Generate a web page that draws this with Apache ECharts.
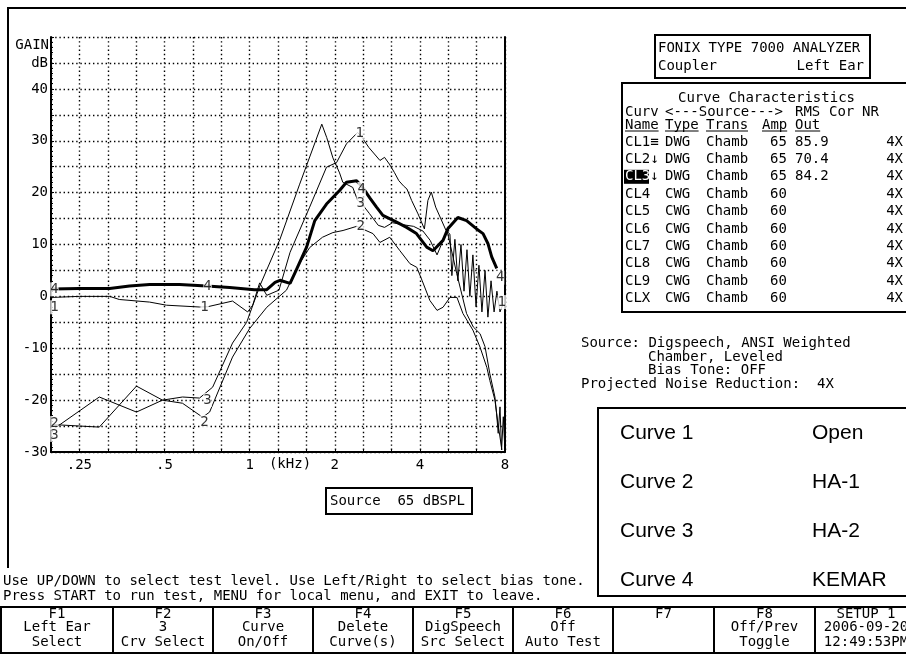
<!DOCTYPE html>
<html><head><meta charset="utf-8">
<script src="https://cdn.jsdelivr.net/npm/echarts@6/dist/echarts.min.js"></script>
<style>html,body{margin:0;padding:0;background:#fff;}#c{width:906px;height:654px;}</style>
</head><body><div id="c"></div>
<script>
// ---------------- DATA (frequency in kHz, gain in dB) ----------------
const xTickFreqs  = [0.25, 0.5, 1, 2, 4, 8];
const xTickLabels = ['.25', '.5', '1', '2', '4', '8'];
const yTickValues = [40, 30, 20, 10, 0, -10, -20, -30];

const curve1 = [[0.2,-0.2],[0.25,0],[0.32,0],[0.346,-0.6],[0.443,-1.1],[0.508,-1.7],[0.665,-2.05],[0.71,-2.0],[0.87,-0.9],[0.984,-3.0],[1.025,-1.7],[1.085,2.6],[1.15,0.2],[1.27,1.2],[1.39,8.5],[1.63,17.2],[1.87,24.9],[2.03,25.8],[2.2,29.4],[2.41,31.6],[2.5,30.6],[2.64,28.7],[2.89,26.2],[3.0,26.8],[3.12,25.5],[3.25,23.9],[3.37,22.3],[3.5,21.3],[3.6,20.7],[3.74,18.5],[3.94,15.9],[4.15,13.0],[4.27,18.5],[4.39,20.1],[4.55,17.2],[4.95,12.7],[5.11,12],[5.19,4],[5.32,11],[5.45,3],[5.59,10],[5.73,1],[5.87,9],[6.01,0],[6.16,8],[6.32,-2],[6.47,6],[6.63,-3],[6.8,5],[6.96,-4],[7.14,3],[7.32,-3],[7.49,1],[7.68,-3],[7.87,-1.5]];
const curve2 = [[0.2,-24.7],[0.294,-25.2],[0.398,-17.3],[0.492,-20],[0.579,-20.6],[0.682,-23.3],[0.722,-22.3],[0.87,-11.7],[1.0,-6.2],[1.15,-2.1],[1.35,1.2],[1.5,6.3],[1.63,9.4],[1.81,11.4],[1.97,12.3],[2.14,12.7],[2.39,13.5],[2.73,12.1],[2.89,10.4],[3.13,11.4],[3.4,8.8],[3.69,6.3],[3.9,5.6],[4.07,3.1],[4.34,-0.8],[4.6,-2.7],[4.83,-2.1],[5.11,-0.2],[5.41,-0.2],[5.68,-3.3],[6.16,-6.5],[6.53,-9.8],[6.9,-13.7],[7.07,-16.2],[7.37,-20],[7.55,-24.4],[7.8,-29.6]];
const curve3 = [[0.2,-25.8],[0.294,-19.4],[0.398,-22.3],[0.492,-20],[0.579,-19.4],[0.665,-19.6],[0.74,-17.5],[0.87,-9],[0.976,-5],[1.09,2.2],[1.28,11],[1.5,21.5],[1.8,33.2],[1.874,30.6],[1.97,26.7],[2.08,23.8],[2.135,22],[2.316,21],[2.41,18.5],[2.49,17.9],[2.65,16],[2.85,13.7],[3.0,13.3],[3.2,14.2],[3.5,13.8],[3.8,13.5],[4.1,12.6],[4.35,10.8],[4.6,8],[4.85,11],[5.0,12.5],[5.4,4.4],[5.85,-3.3],[6.18,-5.9],[6.53,-7.2],[6.8,-9.7],[7.07,-14.9],[7.37,-19.4],[7.47,-22.6],[7.57,-26.4],[7.68,-21.3],[7.78,-29.6],[7.89,-23.2],[8.0,-30]];
const curve4 = [[0.2,1.4],[0.25,1.5],[0.32,1.5],[0.376,2.0],[0.443,2.3],[0.565,2.3],[0.704,2.0],[0.85,1.7],[1.04,1.3],[1.15,1.3],[1.23,2.7],[1.28,3.1],[1.39,2.5],[1.46,5],[1.59,9.5],[1.7,14.6],[1.87,17.8],[2.08,20.4],[2.2,22],[2.39,22.3],[2.51,21],[2.66,19],[2.81,17.2],[2.96,15.6],[3.31,14.3],[3.59,13.3],[3.89,12.1],[4.23,9.5],[4.45,8.8],[4.83,10.8],[5.03,13.1],[5.45,15.2],[5.85,14.6],[6.35,13],[6.69,12.1],[6.96,10.2],[7.18,7.6],[7.48,5.4]];

// curve number tags drawn on the curves: [kHz, dB]
const tags1 = [[0.204,-2.1],[0.693,-2.1],[2.45,31.5],[7.79,-1.1]];
const tags2 = [[0.204,-24.4],[0.693,-24.2],[2.47,13.5]];
const tags3 = [[0.204,-26.7],[0.71,-20],[2.47,17.9]];
const tags4 = [[0.204,1.35],[0.71,1.9],[2.49,20.7],[7.69,3.6]];

const legendNames  = ['Curve 1','Curve 2','Curve 3','Curve 4'];
const legendLabels = ['Open','HA-1','HA-2','KEMAR'];

const tableRows = [
  ['CL1\u2261','DWG','Chamb','65','85.9','4X'],
  ['CL2\u2193','DWG','Chamb','65','70.4','4X'],
  ['CL3\u2193','DWG','Chamb','65','84.2','4X'],
  ['CL4','CWG','Chamb','60','','4X'],
  ['CL5','CWG','Chamb','60','','4X'],
  ['CL6','CWG','Chamb','60','','4X'],
  ['CL7','CWG','Chamb','60','','4X'],
  ['CL8','CWG','Chamb','60','','4X'],
  ['CL9','CWG','Chamb','60','','4X'],
  ['CLX','CWG','Chamb','60','','4X']
];
const fKeys = [
  ['F1','Left Ear','Select'],['F2','3','Crv Select'],['F3','Curve','On/Off'],
  ['F4','Delete','Curve(s)'],['F5','DigSpeech','Src Select'],['F6','Off','Auto Test'],
  ['F7','',''],['F8','Off/Prev','Toggle'],['SETUP 1','2006-09-20','12:49:53PM']
];

// ---------------- CHART ----------------
const X = f => 3 * Math.log2(f);           // third-octave units, 0 = 1 kHz
const pts = a => a.map(p => [X(p[0]), p[1]]);
const MONO = '"DejaVu Sans Mono","Liberation Mono",monospace';
const SANS = '"Liberation Sans",Arial,sans-serif';

function T(text, x, y, o) {
  o = o || {};
  const al = o.align || 'left';
  return {type:'text', silent:true, z: o.z || 10, style:{
    text:text, x:x, y:y, font:(o.size||14)+'px '+(o.family||MONO), fill:o.fill||'#000',
    textAlign:al, align:al, textVerticalAlign:'middle', verticalAlign:'middle'}};
}
function L(x1,y1,x2,y2,w){return {type:'line',silent:true,z:5,shape:{x1,y1,x2,y2},style:{stroke:'#000',lineWidth:w||2}};}
function R(x,y,w,h,lw,fill){return {type:'rect',silent:true,z:4,shape:{x,y,width:w,height:h},style:{fill:fill||'none',stroke:fill&&!lw?null:'#000',lineWidth:lw||0}};}

const g = [];
// outer frame
g.push(L(7,8,906,8));
g.push(L(8,7,8,568));
// plot labels
g.push(T('GAIN',49,45,{align:'right'}));
g.push(T('(kHz)',290,464,{align:'center'}));
// Source box
g.push(R(326,488,146,26,2));
g.push(T('Source  65 dBSPL',330,501));
// FONIX box
g.push(R(655,35,215,43,2));
g.push(T('FONIX TYPE 7000 ANALYZER',658,48));
g.push(T('Coupler',658,66));
g.push(T('Left Ear',864,66,{align:'right'}));
// table
g.push(R(622,83,300,229,2));
g.push(T('Curve Characteristics',678,98));
g.push(T('Curv',625,112));
g.push(T('<---Source--->',665,112));
g.push(T('RMS',795,112));
g.push(T('Cor',829,112));
g.push(T('NR',862,112));
const hdr = [['Name',625],['Type',665],['Trans',706],['Amp',762],['Out',795]];
hdr.forEach(h => { g.push(T(h[0],h[1],125)); g.push(L(h[1],131,h[1]+h[0].length*8.4,131,1)); });
const colX = [625,665,706,770,795];
tableRows.forEach((r,i) => {
  const y = 142 + i*17.4;
  if (i === 2) { g.push(R(624,y-7,25,14,0,'#000')); g.push(T('CL3',625,y,{fill:'#fff',z:11})); g.push(T('\u2193',650,y)); }
  else g.push(T(r[0],colX[0],y));
  g.push(T(r[1],colX[1],y));
  g.push(T(r[2],colX[2],y));
  g.push(T(r[3],colX[3],y));
  if (r[4]) g.push(T(r[4],colX[4],y));
  g.push(T(r[5],903,y,{align:'right'}));
});
// source text
g.push(T('Source: Digspeech, ANSI Weighted',581,343));
g.push(T('Chamber, Leveled',648,357));
g.push(T('Bias Tone: OFF',648,370));
g.push(T('Projected Noise Reduction:  4X',581,384));
// legend box
g.push(R(598,408,330,188,2));
legendNames.forEach((n,i) => {
  const y = 433 + i*49;
  g.push(T(n,620,y,{family:SANS,size:21}));
  g.push(T(legendLabels[i],812,y,{family:SANS,size:21}));
});
// instructions
g.push(T('Use UP/DOWN to select test level. Use Left/Right to select bias tone.',3,581));
g.push(T('Press START to run test, MENU for local menu, and EXIT to leave.',3,596));
// F key table
const fx = [1,113,213,313,413,513,613,714,815,917];
g.push(L(0,607,906,607));
g.push(L(0,653,906,653));
fx.forEach(x => g.push(L(x,606,x,654)));
fKeys.forEach((k,i) => {
  const cx = (fx[i]+fx[i+1])/2;
  g.push(T(k[0],cx,614,{align:'center'}));
  g.push(T(k[1],cx,627,{align:'center'}));
  g.push(T(k[2],cx,642,{align:'center'}));
});

const lineSeries = (name,data,w) => ({type:'line',name,data:pts(data),showSymbol:false,symbol:'none',
  lineStyle:{color:'#000',width:w},z: w>1?3:2,animation:false,clip:true});
const tagSeries = (label,data) => ({type:'scatter',data:pts(data),symbolSize:0,z:6,animation:false,
  label:{show:true,position:'inside',formatter:label,color:'#000',fontFamily:MONO,fontSize:14,
         backgroundColor:'#fff',padding:[0,0]}});
const dots = {color:'#000',width:1.4,type:[1.4,2.8]};

const option = {
  animation:false,
  grid:{left:51,top:37,width:454,height:415},
  xAxis:{type:'value',min:-7,max:9,interval:1,
    axisLine:{show:true,onZero:false,lineStyle:{color:'#000',width:2}},
    axisTick:{show:true,inside:true,length:3,lineStyle:{color:'#000'}},
    axisLabel:{margin:6,color:'#000',fontFamily:MONO,fontSize:14,showMinLabel:true,showMaxLabel:true,
      formatter:v=>{for(let i=0;i<xTickFreqs.length;i++){if(Math.abs(X(xTickFreqs[i])-v)<1e-6)return xTickLabels[i];}return '';}},
    splitLine:{show:true,lineStyle:dots}},
  yAxis:[{type:'value',min:-30,max:50,interval:5,
    axisLine:{show:true,onZero:false,lineStyle:{color:'#000',width:2}},
    axisTick:{show:true,inside:true,length:3,lineStyle:{color:'#000'}},
    minorTick:{show:true,splitNumber:5,length:2,lineStyle:{color:'#000'}},
    axisLabel:{margin:3,color:'#000',fontFamily:MONO,fontSize:14,
      formatter:v=>yTickValues.indexOf(v)>=0?String(v):(v===45?'dB':'')},
    splitLine:{show:true,lineStyle:dots}},
   {type:'value',min:-30,max:50,interval:5,position:'right',
    axisLine:{show:true,onZero:false,lineStyle:{color:'#000',width:2}},
    axisTick:{show:false},axisLabel:{show:false},splitLine:{show:false}}],
  series:[
    lineSeries('Curve 1',curve1,1),
    lineSeries('Curve 2',curve2,1),
    lineSeries('Curve 3',curve3,1),
    lineSeries('Curve 4',curve4,3),
    tagSeries('1',tags1),tagSeries('2',tags2),tagSeries('3',tags3),tagSeries('4',tags4)
  ],
  graphic:g
};
const chart = echarts.init(document.getElementById('c'));
chart.setOption(option);
</script></body></html>
